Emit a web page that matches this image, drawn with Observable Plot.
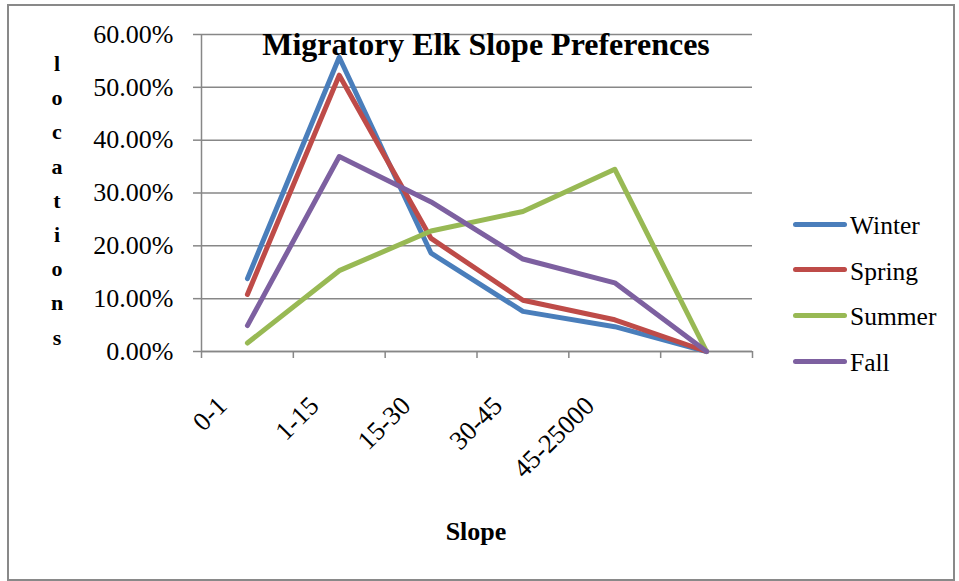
<!DOCTYPE html>
<html><head><meta charset="utf-8">
<script src="https://cdn.jsdelivr.net/npm/d3@7"></script>
<script src="https://cdn.jsdelivr.net/npm/@observablehq/plot@0.6"></script>
<style>
body{margin:0;background:#fff;}
#wrap{position:relative;width:959px;height:581px;font-family:"Liberation Serif","Times New Roman",serif;color:#000;overflow:hidden;}
#wrap svg{position:absolute;left:0;top:0;}
#border{position:absolute;left:7px;top:4px;width:944px;height:573px;border:2px solid #898989;}
#title{position:absolute;left:186px;width:600px;top:28px;text-align:center;font-weight:bold;font-size:32px;line-height:32px;white-space:nowrap;}
#ylab{position:absolute;left:40px;width:34px;top:47px;text-align:center;font-weight:bold;font-size:22px;line-height:34.2px;}
#xlab{position:absolute;left:376px;width:200px;top:519px;text-align:center;font-weight:bold;font-size:26px;line-height:26px;}
.lg-line{position:absolute;left:793px;width:54px;height:5px;border-radius:3px;}
.lg-text{position:absolute;left:850px;font-size:25.5px;line-height:25.5px;white-space:nowrap;}
</style></head><body><div id="wrap"><div id="border"></div></div>
<script>
const categories = ["0-1","1-15","15-30","30-45","45-25000",""];
const seasons = ["Winter","Spring","Summer","Fall"];
const colors = ["#4A7EBB","#BE4B48","#98B954","#7D60A0"];
const winter = [0.138,0.557,0.186,0.076,0.047,0];
const spring = [0.108,0.523,0.214,0.097,0.060,0];
const summer = [0.016,0.153,0.228,0.265,0.345,0];
const fall   = [0.049,0.369,0.283,0.175,0.130,0];
const yTicks = [0,0.1,0.2,0.3,0.4,0.5,0.6];
const titleText = "Migratory Elk Slope Preferences";
const yLabel = "locations";
const xLabel = "Slope";

const seriesValues = [winter, spring, summer, fall];
const rows = [];
seasons.forEach((s, k) => seriesValues[k].forEach((v, i) => rows.push({season: s, i, value: v})));
const boundaries = d3.range(categories.length + 1).map(i => i - 0.5);
const grey = "#878787";

const plot = Plot.plot({
  width: 959, height: 581,
  marginLeft: 201, marginRight: 207, marginTop: 34, marginBottom: 230,
  style: {fontFamily: "'Liberation Serif', 'Times New Roman', serif", fontSize: "24px", color: "#000", background: "transparent"},
  x: {type: "linear", domain: [-0.5, categories.length - 0.5]},
  y: {domain: [0, 0.6]},
  color: {domain: seasons, range: colors},
  marks: [
    Plot.gridY(yTicks, {stroke: grey, strokeOpacity: 1, strokeWidth: 1.5}),
    Plot.axisY(yTicks, {tickSize: 8, tickPadding: 20, tickFormat: d => (d * 100).toFixed(2) + "%", stroke: grey, strokeOpacity: 1, strokeWidth: 1.5, fontSize: 26, label: null}),
    Plot.ruleX([-0.5], {stroke: grey, strokeWidth: 1.5}),
    Plot.ruleY([0], {stroke: grey, strokeWidth: 1.5}),
    Plot.axisX(boundaries, {tickSize: 7, tickFormat: () => "", stroke: grey, strokeOpacity: 1, strokeWidth: 1.5, label: null}),
    Plot.axisX(d3.range(categories.length), {tickSize: 0, tickFormat: i => categories[i], tickRotate: -45, tickPadding: 50, dx: -25, fontSize: 26.5, label: null}),
    Plot.line(rows, {x: "i", y: "value", z: "season", stroke: "season", strokeWidth: 5, strokeLinecap: "round", strokeLinejoin: "round"})
  ]
});
const wrap = document.getElementById("wrap");
wrap.appendChild(plot);

const t = document.createElement("div"); t.id = "title"; t.textContent = titleText; wrap.appendChild(t);
const yl = document.createElement("div"); yl.id = "ylab"; yl.innerHTML = yLabel.split("").join("<br>"); wrap.appendChild(yl);
const xl = document.createElement("div"); xl.id = "xlab"; xl.textContent = xLabel; wrap.appendChild(xl);
seasons.forEach((s, k) => {
  const cy = 224 + k * 45.7;
  const ln = document.createElement("div"); ln.className = "lg-line";
  ln.style.top = (cy - 2.5) + "px"; ln.style.background = colors[k]; wrap.appendChild(ln);
  const tx = document.createElement("div"); tx.className = "lg-text";
  tx.style.top = (cy - 11) + "px"; tx.textContent = s; wrap.appendChild(tx);
});
</script>
</body></html>
